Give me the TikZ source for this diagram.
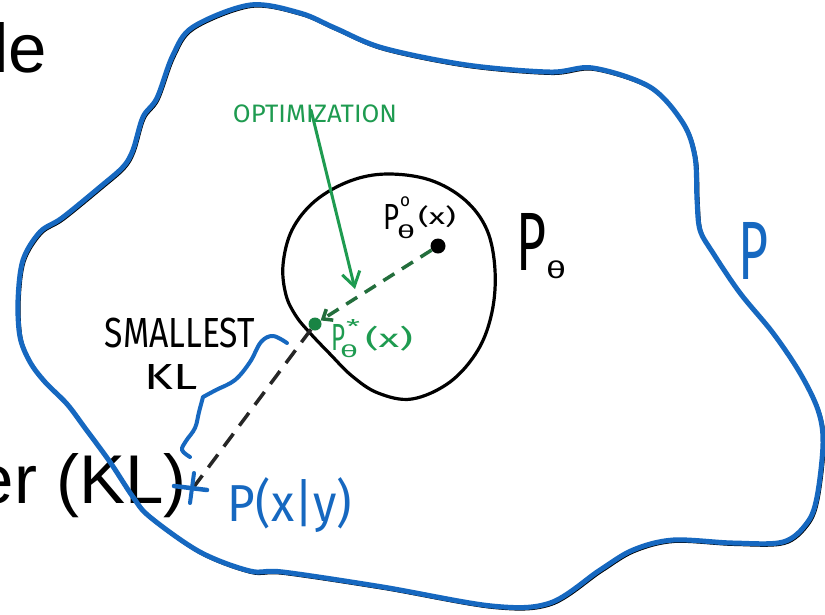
\documentclass[tikz,border=0pt]{standalone}
\usepackage{fontspec}
\usepackage{graphicx}
\setmainfont{Liberation Sans}
\newfontfamily\hand{Fira Sans}
\usetikzlibrary{arrows.meta}
\definecolor{pblue}{RGB}{22,104,192}
\definecolor{pgreen}{RGB}{30,155,80}
\definecolor{dgreen}{RGB}{35,110,60}
\newcommand\fitt[3]{\resizebox*{#1pt}{#2pt}{\hand #3}}
\begin{document}
\begin{tikzpicture}[x=1pt,y=-1pt,
  lbl/.style={inner sep=0pt, outer sep=0pt},
  slide/.style={inner sep=0pt, font=\fontsize{69}{80}\selectfont},
  blob/.style={insert path={plot[smooth cycle, tension=0.55] coordinates {
    (250,5) (300,13) (335,28) (383,48) (467,65) (550,72) (593,68) (650,87)
    (683,123) (695,157) (697,200) (700,230) (713,253) (740,293) (773,333)
    (800,373) (818,410) (823,443) (817,497) (807,523) (783,542) (733,543)
    (673,540) (633,550) (600,570) (550,603) (492,606) (383,587) (283,572)
    (250,571) (200,552) (150,517) (133,497) (110,462) (85,428) (67,404)
    (45,382) (30,362) (20,337) (18,300) (23,260) (40,232) (62,218)
    (100,187) (123,167) (133,150) (143,117) (157,98) (173,55) (193,27)}}},
  ring/.style={insert path={plot[smooth cycle, tension=0.6] coordinates {
    (387,174) (430,180) (465,200) (487,230) (495,270) (492,312) (478,350)
    (450,382) (412,399) (378,393) (352,376) (330,354) (310,333) (296,316)
    (286,295) (283,265) (292,230) (315,201) (350,181)}}},
  outl/.style={line width=5pt, line cap=round, line join=round},
  dotn/.style={circle, fill, inner sep=0pt},
]
\fill[white] (0,0) rectangle (825,614);
\useasboundingbox (0,0) rectangle (825,614);

% slide text behind the sketch
\node[slide, anchor=base east] (le) at (47,72) {le};
\node[slide, anchor=base east] (erkl) at (187,503) {er (KL)};

% outer region P
\draw[outl, black, line width=3pt, shift={(1.2,1.5)}, blob];
\draw[outl, pblue, blob];

% inner region P_theta
\draw[black, line width=3.2pt, line join=round, ring];

% points
\node[dotn, black, minimum size=15pt] (p0) at (438,246) {};
\node[dotn, pgreen!85!black, minimum size=13pt] (pstar) at (315,324) {};
\coordinate (pxy) at (193,488);

% dashed connectors
\draw[dgreen, line width=3.5pt, dash pattern=on 13pt off 9pt,
      -{Straight Barb[length=8pt,width=13pt]}] (p0) -- (pstar);
\draw[black!85, line width=3.5pt, dash pattern=on 16pt off 10pt] (pstar) -- (pxy);

% cross at P(x|y)
\draw[pblue, line width=4.5pt, line cap=round] ([xshift=-19pt,yshift=2pt]pxy) -- ([xshift=14pt,yshift=-2pt]pxy);
\draw[pblue, line width=4pt, line cap=round] ([xshift=-3pt,yshift=-15pt]pxy) -- ([xshift=1pt,yshift=15pt]pxy);

% optimization arrow
\node[lbl, text=pgreen] (opt) at (315,114) {\fitt{164}{18}{OPTIMIZATION}};
\coordinate (optend) at (355,289);
\draw[pgreen, line width=3pt, line cap=round,
      -{Straight Barb[length=14pt,width=18pt]}] ([xshift=-4pt,yshift=13pt]opt.south) -- (optend);

% brace "smallest KL"
\draw[pblue, line width=4pt, line cap=round, line join=round]
  plot[smooth, tension=0.6] coordinates {(287,343) (273,336) (261,342) (250,362) (235,380) (216,390) (203,397)}
  plot[smooth, tension=0.6] coordinates {(203,397) (199,412) (195,428) (186,441) (182,450) (190,457)};

\node[lbl] (small) at (180,333) {\fitt{150}{30}{SMALLEST}};
\node[lbl] (kl) at (171,377) {\fitt{53}{25}{KL}};

% P_theta^o(x)
\node[lbl] (p0P) at (391,217) {\fitt{16}{25}{P}};
\node[lbl] (p0o) at (405,202) {\fitt{10}{10}{o}};
\node[lbl] (p0t) at (406,232) {\fitt{18}{14}{θ}};
\node[lbl] (p0x) at (437,217) {\fitt{38}{22}{(x)}};

% P_theta^*(x)
\begin{scope}[text=pgreen]
\node[lbl] (psP) at (338,337) {\fitt{14}{26}{P}};
\node[lbl] (pss) at (353,326) {\fitt{14}{14}{*}};
\node[lbl] (pst) at (349,351) {\fitt{18}{13}{θ}};
\node[lbl] (psx) at (389,339) {\fitt{48}{25}{(x)}};
\end{scope}

% P_theta label
\node[lbl] (PthP) at (531,242) {\fitt{30}{57}{P}};
\node[lbl] (Ptht) at (556,270) {\fitt{20}{18}{θ}};

% P label
\node[lbl, text=pblue] (Plab) at (753,251) {\fitt{30}{57}{P}};

% P(x|y)
\node[lbl, text=pblue] (pxylab) at (290,505) {\fitt{124}{55}{P(x|y)}};
\end{tikzpicture}
\end{document}
